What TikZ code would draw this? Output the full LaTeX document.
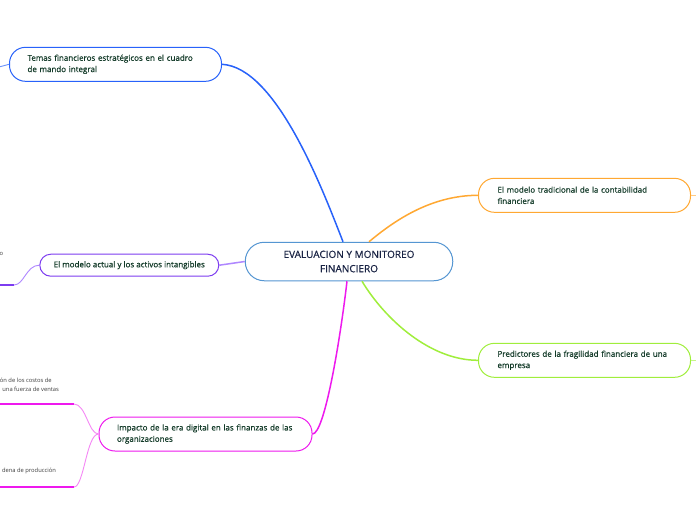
\documentclass[tikz,border=0pt]{standalone}
\usepackage{fontspec}
\setmainfont{Open Sans}
\newfontfamily\semib{Open Sans}[FakeBold=0.45]
\usetikzlibrary{calc}
\definecolor{cblue}{RGB}{40,98,250}
\definecolor{corange}{RGB}{255,168,50}
\definecolor{cgreen}{RGB}{160,238,60}
\definecolor{cpurple}{RGB}{125,60,240}
\definecolor{cpurplel}{RGB}{175,135,255}
\definecolor{cmag}{RGB}{238,25,238}
\definecolor{cmagl}{RGB}{245,135,245}
\definecolor{ccenter}{RGB}{85,150,210}
\definecolor{ctext}{RGB}{18,58,40}
\definecolor{cctext}{RGB}{25,35,68}
\definecolor{csmall}{RGB}{60,60,60}
\tikzset{
  topic/.style={draw, line width=1pt, fill=white, text=ctext, align=left,
    inner ysep=0pt, minimum height=34pt, rounded corners=16pt,
    font=\semib\fontsize{8}{11.3}\selectfont, anchor=west},
  link/.style={line width=1.5pt},
  thin/.style={line width=0.9pt},
  bar/.style={line width=2pt},
  small/.style={text=csmall, font=\fontsize{5.8}{9}\selectfont, align=left, inner sep=0pt, anchor=west}
}
\begin{document}
\begin{tikzpicture}[x=1pt,y=-1pt]
\useasboundingbox (0,0) rectangle (696,520);
\clip (0,0) rectangle (696,520);
\fill[white] (0,0) rectangle (696,520);

% nodes
\node[draw=ccenter, line width=1pt, fill=white, text=cctext, align=center,
  minimum width=207.5pt, minimum height=38.5pt, rounded corners=19pt, inner sep=0pt,
  font=\semib\fontsize{10}{14.3}\selectfont] (c) at (349,261.5) {EVALUACION Y MONITOREO\\FINANCIERO};

\node[topic, draw=cblue, inner xsep=18pt, text width=176pt] (t1) at (9,64.3)
  {Temas financieros estratégicos en el cuadro\\de mando integral};
\node[topic, draw=corange, inner xsep=19pt, text width=174pt] (t2) at (478,195.3)
  {El modelo tradicional de la contabilidad\\financiera};
\node[topic, draw=cgreen, inner xsep=19pt, text width=174pt] (t3) at (478,360.3)
  {Predictores de la fragilidad financiera de una\\empresa};
\node[topic, draw=cpurple, align=center, inner xsep=0pt, minimum width=179pt,
  minimum height=22pt, rounded corners=11pt] (t4) at (39.3,265.2)
  {El modelo actual y los activos intangibles};
\node[topic, draw=cmag, inner xsep=18pt, text width=177pt] (t5) at (98.5,434)
  {Impacto de la era digital en las finanzas de las\\organizaciones};

% free ends
\coordinate (e1) at (-1,67);
\coordinate (e2) at (698,195.3);
\coordinate (e3) at (698,360.3);
\coordinate (p1) at (14,285);
\coordinate (p0) at (-1,285);
\coordinate (m1) at (74,404);
\coordinate (m0) at (-1,404);
\coordinate (m2) at (74,487);
\coordinate (m3) at (-1,487);

% connectors from central topic
\draw[link, cblue] (t1.east) .. controls +(54,3) and +(-21,-54) .. ([xshift=-6pt]c.north);
\draw[link, corange] ([xshift=20pt]c.north) .. controls +(24,-20) and +(-48,0) .. (t2.west);
\draw[link, cgreen] ([xshift=13pt]c.south) .. controls +(23,38) and +(-48,0) .. (t3.west);
\draw[link, cmag] ([xshift=-2pt]c.south) .. controls +(-7,60) and +(12,0) .. (t5.east);
\draw[link, cpurplel] (c.west) -- (t4.east);

% stubs
\draw[thin, cblue!70] (e1) -- (t1.west);
\draw[thin, corange!60] (t2.east) -- (e2);
\draw[thin, cgreen!60] (t3.east) -- (e3);

% sub-branches
\draw[thin, cpurplel] (t4.west) .. controls +(-13,0) and +(10,0) .. (p1);
\draw[bar, cpurple] (p1) -- (p0);
\draw[thin, cmagl] (t5.west) .. controls +(-10,0) and +(12,0) .. (m1);
\draw[bar, cmag] (m1) -- (m0);
\draw[thin, cmagl] (t5.west) .. controls +(-12,0) and +(10,0) .. (m2);
\draw[bar, cmag] (m2) -- (m3);

% cut-off texts
\node[small] (s1) at (-0.5,253.5) {o};
\node[small] (s2) at (-0.3,384.5) {ón de los costos de\\\hspace*{2.5pt}una fuerza de ventas};
\node[small] (s3) at (1.8,470.5) {dena de producción};
\end{tikzpicture}
\end{document}
